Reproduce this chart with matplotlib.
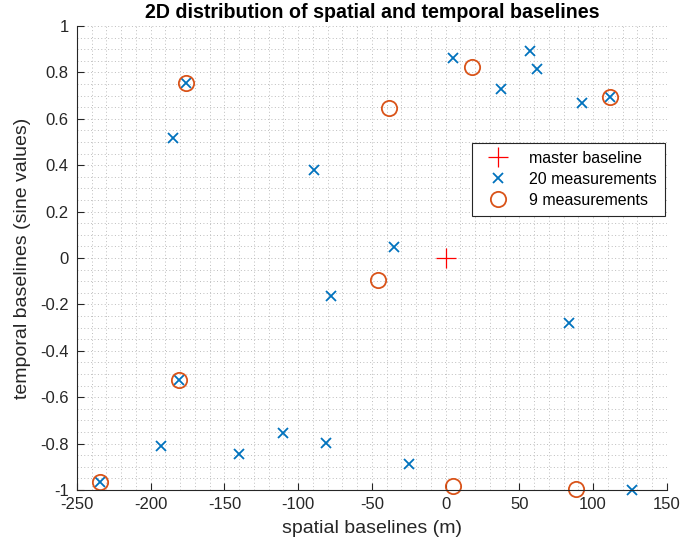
import matplotlib
matplotlib.use("Agg")
import matplotlib.pyplot as plt
from matplotlib.ticker import MultipleLocator, FuncFormatter

plt.rcParams['font.family'] = ['Liberation Sans', 'DejaVu Sans']
plt.rcParams['axes.unicode_minus'] = False

# master acquisition at the origin
master_x = [0.0]
master_y = [0.0]

# all 20 acquisitions
all_x = [5.3, 57.1, 61.9, 37.4, 92.6, 111.4, -176.3, -184.9, -89.4, -34.9,
         -77.9, 83.8, -180.5, -193.2, -140.1, -110.2, -80.8, -24.8, -234.1, 126.7]
all_y = [0.863, 0.894, 0.813, 0.727, 0.670, 0.695, 0.753, 0.517, 0.379, 0.046,
         -0.164, -0.281, -0.526, -0.809, -0.846, -0.753, -0.799, -0.888, -0.964, -1.0]

# selected subset of 9 acquisitions
sel_x = [-176.3, -38.1, 18.2, 111.4, -45.8, -180.5, -234.1, 5.1, 88.3]
sel_y = [0.753, 0.645, 0.825, 0.695, -0.095, -0.526, -0.964, -0.983, -0.994]

blue = '#0072BD'
orange = '#D95319'
ink = '#262626'

fig = plt.figure(figsize=(6.96, 5.5), dpi=100)
ax = fig.add_axes([0.1106, 0.109, 0.8474, 0.8437])

ax.plot(master_x, master_y, linestyle='none', marker='+', color='#FF0000',
        markersize=14, markeredgewidth=0.9, label='master baseline', clip_on=False)
ax.plot(all_x, all_y, linestyle='none', marker='x', color=blue,
        markersize=7.5, markeredgewidth=1.3, label='20 measurements', clip_on=False)
ax.plot(sel_x, sel_y, linestyle='none', marker='o', color=orange, markerfacecolor='none',
        markersize=11, markeredgewidth=1.3, label='9 measurements', clip_on=False)

ax.set_xlim(-250, 150)
ax.set_ylim(-1, 1)
ax.xaxis.set_major_locator(MultipleLocator(50))
ax.xaxis.set_minor_locator(MultipleLocator(10))
ax.yaxis.set_major_locator(MultipleLocator(0.2))
ax.yaxis.set_minor_locator(MultipleLocator(0.05))
ax.yaxis.set_major_formatter(FuncFormatter(lambda v, _: f'{round(v, 2) + 0:g}'))

ax.grid(True, which='both', linestyle=(0, (1, 2.5)), color='#bdbdbd', linewidth=0.7)
ax.set_axisbelow(True)

for side in ('top', 'right'):
    ax.spines[side].set_visible(False)
for side in ('left', 'bottom'):
    ax.spines[side].set_color(ink)
    ax.spines[side].set_linewidth(0.8)

ax.tick_params(which='major', direction='in', length=5, width=0.8, colors=ink,
               labelsize=12, labelcolor=ink)
ax.tick_params(axis='y', which='major', pad=6)
ax.tick_params(axis='x', which='major', pad=5)
ax.tick_params(which='minor', length=0)

ax.set_xlabel('spatial baselines (m)', fontsize=14, color=ink)
ax.set_ylabel('temporal baselines (sine values)', fontsize=14, color=ink)
ax.xaxis.set_label_coords(0.5, -0.065)
ax.yaxis.set_label_coords(-0.078, 0.5)
ax.set_title('2D distribution of spatial and temporal baselines', fontsize=14.1,
             fontweight='bold', pad=6)

leg = ax.legend(loc='upper right', bbox_to_anchor=(0.9966, 0.748), fontsize=11.5,
                fancybox=False, framealpha=1, edgecolor=ink, borderpad=0.5,
                borderaxespad=0, labelspacing=0.38, handletextpad=0.8,
                handlelength=2.3)
leg.get_frame().set_linewidth(0.8)

fig.savefig('out.png', dpi=100)
